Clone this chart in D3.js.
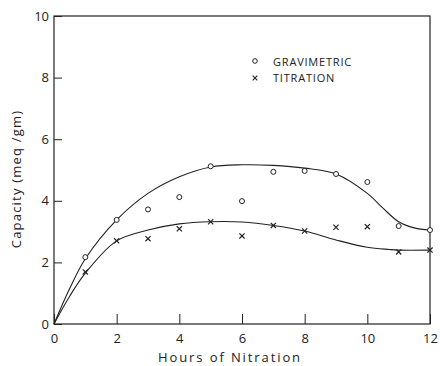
<!DOCTYPE html>
<html>
<head>
<meta charset="utf-8">
<script src="https://cdn.jsdelivr.net/npm/d3@7"></script>
<style>
  body { margin: 0; background: #fff; }
  text { font-family: "Open Sans", "DejaVu Sans", sans-serif; fill: #222; }
</style>
</head>
<body>
<div id="chart"></div>
<script>
// measured points
const hours = [1, 2, 3, 4, 5, 6, 7, 8, 9, 10, 11, 12];
const gravimetric = [2.17, 3.38, 3.72, 4.12, 5.12, 3.99, 4.94, 4.97, 4.87, 4.61, 3.18, 3.05];
const titration = [1.69, 2.70, 2.77, 3.09, 3.32, 2.86, 3.20, 3.02, 3.14, 3.16, 2.34, 2.40];

// hand drawn fit curves
const gravFitX = [0, 0.5, 1, 2, 3, 4, 5, 6, 7, 8, 9, 10, 10.5, 11, 11.5, 12];
const gravFitY = [0, 1.15, 2.12, 3.38, 4.24, 4.78, 5.1, 5.17, 5.15, 5.06, 4.87, 4.24, 3.76, 3.32, 3.12, 3.05];
const titFitX = [0, 0.5, 1, 2, 3, 4, 5, 6, 7, 8, 9, 10, 10.7, 11, 12];
const titFitY = [0, 0.9, 1.65, 2.7, 3.05, 3.25, 3.32, 3.31, 3.2, 3.02, 2.73, 2.49, 2.42, 2.40, 2.40];

const xTicks = [0, 2, 4, 6, 8, 10, 12];
const yTicks = [0, 2, 4, 6, 8, 10];

const width = 440, height = 366;

var svg = d3.select("#chart")
  .append("svg")
  .attr("width", width)
  .attr("height", height);

var x = d3.scaleLinear().domain([0, 12]).range([54, 430]);
var y = d3.scaleLinear().domain([0, 10]).range([324, 16]);

// frame
svg.append("rect")
  .attr("x", x(0))
  .attr("y", y(10))
  .attr("width", x(12) - x(0))
  .attr("height", y(0) - y(10))
  .attr("fill", "none")
  .attr("stroke", "#222")
  .attr("stroke-width", 1.2);

// x axis, ticks pointing inward
svg.append("g")
  .attr("transform", "translate(0," + y(0) + ")")
  .call(d3.axisBottom(x).tickValues(xTicks).tickSizeInner(-10).tickSizeOuter(0).tickPadding(10).tickFormat(d3.format("d")))
  .call(g => g.select(".domain").remove())
  .call(g => g.selectAll("line").attr("stroke", "#222"))
  .call(g => g.selectAll("text").style("font-size", "13px").style("fill", "#222").attr("font-family", null));

// y axis
svg.append("g")
  .attr("transform", "translate(" + x(0) + ",0)")
  .call(d3.axisLeft(y).tickValues(yTicks).tickSizeInner(-8).tickSizeOuter(0).tickPadding(5).tickFormat(d3.format("d")))
  .call(g => g.select(".domain").remove())
  .call(g => g.selectAll("line").attr("stroke", "#222"))
  .call(g => g.selectAll("text").style("font-size", "13px").style("fill", "#222").attr("font-family", null));

// fit curves
const line = d3.line()
  .x(d => x(d[0]))
  .y(d => y(d[1]))
  .curve(d3.curveCatmullRom.alpha(0.5));

svg.append("path")
  .datum(d3.zip(gravFitX, gravFitY))
  .attr("fill", "none")
  .attr("stroke", "#222")
  .attr("stroke-width", 1.1)
  .attr("d", line);

svg.append("path")
  .datum(d3.zip(titFitX, titFitY))
  .attr("fill", "none")
  .attr("stroke", "#222")
  .attr("stroke-width", 1.1)
  .attr("d", line);

// circles
svg.append("g")
  .selectAll("circle")
  .data(d3.zip(hours, gravimetric))
  .enter()
  .append("circle")
  .attr("cx", d => x(d[0]))
  .attr("cy", d => y(d[1]))
  .attr("r", 2.5)
  .attr("fill", "#fff")
  .attr("stroke", "#222")
  .attr("stroke-width", 1);

// crosses
const cross = "M-2.6,-2.6L2.6,2.6M-2.6,2.6L2.6,-2.6";
svg.append("g")
  .selectAll("path")
  .data(d3.zip(hours, titration))
  .enter()
  .append("path")
  .attr("transform", d => "translate(" + x(d[0]) + "," + y(d[1]) + ")")
  .attr("d", cross)
  .attr("stroke", "#222")
  .attr("stroke-width", 1.2);

// legend
svg.append("circle")
  .attr("cx", 255).attr("cy", 61).attr("r", 2.3)
  .attr("fill", "#fff").attr("stroke", "#222");
svg.append("text")
  .attr("x", 273).attr("y", 65.5)
  .style("font-size", "11px").style("letter-spacing", "0.8px")
  .text("GRAVIMETRIC");
svg.append("path")
  .attr("transform", "translate(255,78)")
  .attr("d", "M-2.3,-2.3L2.3,2.3M-2.3,2.3L2.3,-2.3")
  .attr("stroke", "#222").attr("stroke-width", 1.1);
svg.append("text")
  .attr("x", 273).attr("y", 82)
  .style("font-size", "11px").style("letter-spacing", "0.8px")
  .text("TITRATION");

// axis titles
svg.append("text")
  .attr("x", 230).attr("y", 362)
  .attr("text-anchor", "middle")
  .style("font-size", "13px").style("letter-spacing", "1.9px")
  .text("Hours of Nitration");

svg.append("text")
  .attr("transform", "translate(21,179) rotate(-90)")
  .attr("text-anchor", "middle")
  .style("font-size", "13px").style("letter-spacing", "1.2px")
  .text("Capacity (meq /gm)");
</script>
</body>
</html>
